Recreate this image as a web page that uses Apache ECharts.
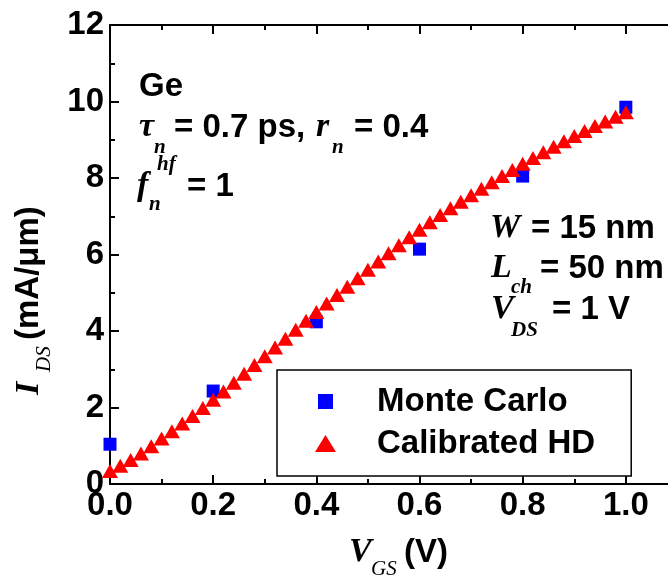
<!DOCTYPE html>
<html>
<head>
<meta charset="utf-8">
<script src="https://cdn.jsdelivr.net/npm/echarts@6/dist/echarts.min.js"></script>
<style>
html,body{margin:0;padding:0;background:#fff;}
#c{width:668px;height:585px;}
</style>
</head>
<body>
<div id="c"></div>
<script>
// ---- data ----
const vgsMC = [0.0, 0.2, 0.4, 0.6, 0.8, 1.0];
const idsMC = [1.04, 2.43, 4.24, 6.14, 8.05, 9.85];

const vgsHD = [0.00,0.02,0.04,0.06,0.08,0.10,0.12,0.14,0.16,0.18,
               0.20,0.22,0.24,0.26,0.28,0.30,0.32,0.34,0.36,0.38,
               0.40,0.42,0.44,0.46,0.48,0.50,0.52,0.54,0.56,0.58,
               0.60,0.62,0.64,0.66,0.68,0.70,0.72,0.74,0.76,0.78,
               0.80,0.82,0.84,0.86,0.88,0.90,0.92,0.94,0.96,0.98,1.00];
const idsHD = [0.34,0.48,0.63,0.80,0.99,1.19,1.38,1.58,1.78,1.99,
               2.20,2.42,2.65,2.88,3.11,3.34,3.57,3.80,4.03,4.27,
               4.50,4.72,4.94,5.16,5.38,5.60,5.82,6.03,6.24,6.45,
               6.65,6.84,7.03,7.21,7.38,7.55,7.72,7.89,8.05,8.21,
               8.37,8.52,8.67,8.82,8.96,9.10,9.23,9.36,9.48,9.60,9.72];

const seriesNames = ['Monte Carlo', 'Calibrated HD'];
const xTickLabels = ['0.0','0.2','0.4','0.6','0.8','1.0'];
const yTickLabels = ['0','2','4','6','8','10','12'];

// ---- styles ----
const SANS = 'Liberation Sans, Arial, sans-serif';
const SERIF = 'Liberation Serif, Times New Roman, serif';
function txt(s, x, y, font, align, rot) {
  return {
    type: 'text', x: x, y: y, rotation: rot || 0, silent: true,
    style: { text: s, font: font, fill: '#000', align: align || 'left', verticalAlign: 'middle',
             textAlign: align || 'left', textVerticalAlign: 'middle' }
  };
}
const fSans = 'bold 33px ' + SANS;
const fSerif = 'italic bold 34px ' + SERIF;
const fSub = 'italic bold 21px ' + SERIF;
const fSubAx = 'italic 21px ' + SERIF;

const chart = echarts.init(document.getElementById('c'), null, {renderer: 'canvas'});

const xAxisCommon = {
  type: 'value', min: 0, max: 1.2, interval: 0.2,
  axisLine: { show: true, onZero: false, lineStyle: { color: '#000', width: 2 } },
  axisTick: { show: true, inside: true, length: 9, lineStyle: { color: '#000', width: 2 } },
  minorTick: { show: true, splitNumber: 2, length: 5, lineStyle: { color: '#000', width: 2 } },
  splitLine: { show: false }, minorSplitLine: { show: false }
};

chart.setOption({
  animation: false,
  backgroundColor: '#fff',
  grid: { left: 110, top: 25, width: 619, height: 459, containLabel: false, outerBoundsMode: 'none' },
  xAxis: [
    Object.assign({}, xAxisCommon, {
      position: 'bottom',
      axisLabel: {
        show: true, margin: 5, color: '#000', fontFamily: SANS, fontWeight: 'bold', fontSize: 33,
        showMaxLabel: false,
        formatter: function (v) { const s = v.toFixed(1); return xTickLabels.indexOf(s) >= 0 ? s : ''; }
      }
    }),
    Object.assign({}, xAxisCommon, { position: 'top', axisLabel: { show: false } })
  ],
  yAxis: [{
    type: 'value', min: 0, max: 12, interval: 2,
    axisLine: { show: true, onZero: false, lineStyle: { color: '#000', width: 2 } },
    axisTick: { show: true, inside: true, length: 9, lineStyle: { color: '#000', width: 2 } },
    minorTick: { show: true, splitNumber: 2, length: 5, lineStyle: { color: '#000', width: 2 } },
    splitLine: { show: false },
    axisLabel: {
      show: true, margin: 6, color: '#000', fontFamily: SANS, fontWeight: 'bold', fontSize: 33,
      formatter: function (v) { const s = String(Math.round(v)); return yTickLabels.indexOf(s) >= 0 ? s : ''; }
    }
  }],
  legend: {
    orient: 'vertical', left: 277, top: 370,
    padding: [15, 36, 16, 38],
    itemGap: 9, itemWidth: 21, itemHeight: 17,
    symbolKeepAspect: false,
    borderColor: '#000', borderWidth: 1.5, borderRadius: 0,
    backgroundColor: '#fff',
    textStyle: { color: '#000', fontFamily: SANS, fontWeight: 'bold', fontSize: 33, lineHeight: 32,
                 padding: [0, 0, 0, 36] },
    data: [
      { name: seriesNames[0], icon: 'path://M0,0 M3,1 L18,1 L18,16 L3,16 Z M21,17' },
      { name: seriesNames[1], icon: 'triangle' }
    ]
  },
  series: [
    {
      name: seriesNames[0], type: 'scatter', xAxisIndex: 0, yAxisIndex: 0,
      symbol: 'rect', symbolSize: 13,
      itemStyle: { color: '#0000FF', opacity: 1 },
      data: vgsMC.map((v, i) => [v, idsMC[i]]), z: 2
    },
    {
      name: seriesNames[1], type: 'scatter', xAxisIndex: 0, yAxisIndex: 0,
      symbol: 'triangle', symbolSize: [16, 14],
      itemStyle: { color: '#FF0000', opacity: 1 },
      data: vgsHD.map((v, i) => [v, idsHD[i]]), z: 3
    }
  ],
  graphic: [
    // top-left annotation
    txt('Ge', 139, 87, fSans),
    txt('\u03c4', 139, 127, fSerif),
    txt('n', 154, 148, fSub),
    txt('= 0.7 ps,', 174, 128, fSans),
    txt('r', 316, 127, fSerif),
    txt('n', 332, 148, fSub),
    txt('= 0.4', 354, 128, fSans),
    txt('f', 137, 186, fSerif),
    txt('hf', 157, 165, fSub),
    txt('n', 149, 205, fSub),
    txt('= 1', 187, 187, fSans),
    // right annotation
    txt('W', 490, 228, fSerif),
    txt('= 15 nm', 531, 229, fSans),
    txt('L', 491, 268, fSerif),
    txt('ch', 511, 288, fSub),
    txt('= 50 nm', 540, 269, fSans),
    txt('V', 491, 309, fSerif),
    txt('DS', 511, 331, fSub),
    txt('= 1 V', 552, 310, fSans),
    // x-axis title
    txt('V', 349, 552, fSerif),
    txt('GS', 371, 569, fSubAx),
    txt('(V)', 404, 553, 'bold 33px ' + SANS),
    // y-axis title (rotated)
    txt('I', 29, 395, fSerif, 'left', Math.PI / 2),
    txt('DS', 44, 372, fSubAx, 'left', Math.PI / 2),
    txt('(mA/\u03bcm)', 29, 340, 'bold 33px ' + SANS, 'left', Math.PI / 2)
  ]
});
</script>
</body>
</html>
